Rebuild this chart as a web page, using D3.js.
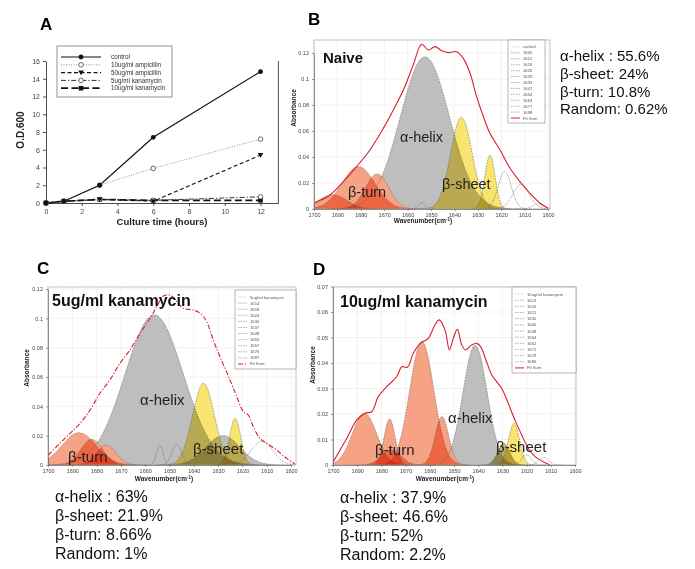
<!DOCTYPE html>
<html><head><meta charset="utf-8">
<script src="https://cdn.jsdelivr.net/npm/d3@7"></script>
<style>
body{margin:0;background:#fff}
svg{display:block}
text{font-family:"Liberation Sans",Arial,sans-serif}
</style>
</head><body>
<svg id="c" width="695" height="569"></svg>
<script>
// ---------------- Panel A data ----------------
const hours = [0, 1, 3, 6, 12];
const growthNames = ["control", "10ug/ml ampicillin", "50ug/ml ampicillin", "5ug/ml kanamycin", "10ug/ml kanamycin"];
const odControl = [0, 0.2, 2.0, 7.4, 14.8];
const odAmp10 = [0, 0.2, 2.0, 3.9, 7.2];
const odAmp50 = [0, 0.2, 0.4, 0.2, 5.4];
const odKan5 = [0, 0.2, 0.4, 0.3, 0.7];
const odKan10 = [0, 0.2, 0.4, 0.3, 0.3];
const odTicks = [0, 2, 4, 6, 8, 10, 12, 14, 16];
const hourTicks = [0, 2, 4, 6, 8, 10, 12];

// ---------------- FTIR spectra data ----------------
const wnTicks = [1700, 1690, 1680, 1670, 1660, 1650, 1640, 1630, 1620, 1610, 1600];
const absTicks12 = [0, 0.02, 0.04, 0.06, 0.08, 0.1, 0.12];
const absTicks07 = [0, 0.01, 0.02, 0.03, 0.04, 0.05, 0.06, 0.07];

// Panel B (Naive)
const compB_center = [1692, 1681, 1673, 1652.6, 1654, 1637, 1624.8, 1618.5, 1611.5, 1604];
const compB_height = [0.011, 0.0326, 0.027, 0.117, 0.005, 0.0705, 0.0415, 0.029, 0.019, 0.004];
const compB_width  = [6, 7, 5, 10.5, 1.3, 4.6, 2.2, 2.8, 3.5, 2.5];
const compB_type   = ["turn", "turn", "turn", "helix", "none", "sheet", "sheet", "none", "none", "none"];
const fitB_wn  = [1699.6,1693.2,1687.5,1681.8,1676.1,1670.4,1666.1,1661.8,1657.6,1654.0,1651.1,1648.3,1645.4,1642.6,1639.0,1636.2,1633.3,1630.5,1627.6,1624.8,1620.5,1616.2,1612.0,1607.7,1603.4,1600.0];
const fitB_abs = [0.0049,0.0108,0.021,0.0326,0.0454,0.062,0.0762,0.0915,0.1108,0.1267,0.1223,0.1249,0.1218,0.1203,0.121,0.1159,0.1044,0.0864,0.071,0.0582,0.0454,0.0313,0.021,0.012,0.0044,0.0005];
const legendB = ["control","1605","1612","1616","1625","1629","1635","1647","1654","1663","1677","1698","Fit Sum"];
const statsB = ["α-helix : 55.6%", "β-sheet: 24%", "β-turn: 10.8%", "Random: 0.62%"];

// Panel C (5ug/ml kanamycin)
const compC_center = [1687.2, 1682, 1676, 1656.3, 1654, 1647, 1636, 1623, 1628, 1612];
const compC_height = [0.022, 0.0175, 0.0135, 0.1023, 0.0136, 0.014, 0.0557, 0.0318, 0.02, 0.016];
const compC_width  = [7, 4.5, 4, 12, 1.3, 2, 4.5, 2.3, 7, 4.5];
const compC_type   = ["turn", "turn", "turn", "helix", "none", "none", "sheet", "sheet", "helix", "none"];
const fitC_wn  = [1699.9,1695.1,1690.9,1686.8,1682.7,1678.6,1674.5,1670.4,1666.3,1662.1,1658.0,1655.3,1652.5,1649.8,1647.0,1644.3,1640.2,1637.4,1634.7,1632.0,1629.2,1625.1,1622.3,1619.6,1617.6,1615.5,1612.8,1610.0,1605.9,1601.8,1598.4];
const fitC_abs = [0.0068,0.0148,0.0216,0.0284,0.0375,0.0489,0.058,0.0693,0.0784,0.0898,0.1,0.1079,0.1152,0.1159,0.1114,0.1068,0.1057,0.1034,0.0977,0.0852,0.0738,0.058,0.0466,0.0364,0.0341,0.0261,0.0182,0.0148,0.0102,0.0045,0.0007];
const legendC = ["5ug/ml kanamycin","1614","1618","1624","1630","1637","1648","1655","1657","1676","1687","Fit Sum"];
const statsC = ["α-helix : 63%", "β-sheet: 21.9%", "β-turn: 8.66%", "Random: 1%"];

// Panel D (10ug/ml kanamycin)
const compD_center = [1687, 1676.6, 1676, 1663.3, 1655, 1641.3, 1629.5, 1625.2, 1613, 1620];
const compD_height = [0.0203, 0.018, 0.006, 0.0484, 0.019, 0.047, 0.0085, 0.0163, 0.003, 0.004];
const compD_width  = [5, 2.3, 4, 5, 2.8, 5, 2.5, 2.3, 2, 2];
const compD_type   = ["turn", "turn", "turn", "turn", "turn", "helix", "olive", "sheet", "none", "none"];
const fitD_wn  = [1699.9,1694.3,1690.2,1686.8,1684.0,1681.3,1677.8,1673.7,1671.6,1669.3,1666.8,1664.0,1660.6,1657.9,1656.1,1653.7,1651.9,1650.3,1648.6,1646.8,1645.2,1642.7,1640.6,1639.0,1636.8,1634.4,1632.4,1630.3,1627.6,1624.8,1622.0,1619.3,1616.5,1613.1,1610.3];
const fitD_abs = [0.0013,0.0105,0.0176,0.0203,0.0209,0.0268,0.0307,0.0346,0.0385,0.0383,0.0438,0.0477,0.0497,0.0549,0.0569,0.0529,0.0451,0.0497,0.0532,0.0471,0.0451,0.0471,0.0477,0.0464,0.0412,0.0353,0.0327,0.0301,0.0242,0.0176,0.0118,0.0065,0.0033,0.0013,0.0];
const legendD = ["10ug/ml kanamycin","1613","1616","1621","1630","1640","1648","1654","1662","1671","1679","1696","Fit Sum"];
const statsD = ["α-helix : 37.9%", "β-sheet: 46.6%", "β-turn: 52%", "Random: 2.2%"];

// ---------------- drawing ----------------
const svg = d3.select("#c");

// ===== Panel A =====
(function () {
  const x = d3.scaleLinear().domain([0, 13]).range([46, 278.4]);
  const y = d3.scaleLinear().domain([0, 16]).range([203, 61]);
  const g = svg.append("g");
  g.append("text").attr("x", 40).attr("y", 30).attr("font-size", 17).attr("font-weight", "bold").text("A");

  const ax = g.append("g").attr("transform", "translate(0,203)")
    .call(d3.axisBottom(x).tickValues(hourTicks).tickSize(3).tickPadding(3).tickSizeOuter(0));
  const ay = g.append("g").attr("transform", "translate(46,0)")
    .call(d3.axisLeft(y).tickValues(odTicks).tickSize(3).tickPadding(3).tickSizeOuter(0));
  [ax, ay].forEach(a => {
    a.selectAll("text").attr("font-size", 7).attr("fill", "#444").attr("font-family", "Liberation Sans, Arial");
    a.selectAll("line,path").attr("stroke", "#222").attr("stroke-width", 0.8);
  });
  g.append("line").attr("x1", 278.4).attr("x2", 278.4).attr("y1", y(16)).attr("y2", y(0)).attr("stroke", "#222").attr("stroke-width", 0.8);

  g.append("text").attr("x", 162).attr("y", 225).attr("text-anchor", "middle").attr("font-size", 9.5).attr("font-weight", "bold").attr("fill", "#222").text("Culture time (hours)");
  g.append("text").attr("transform", "translate(24,130) rotate(-90)").attr("text-anchor", "middle").attr("font-size", 10).attr("font-weight", "bold").attr("fill", "#222").text("O.D.600");

  const series = [
    {vals: odControl, dash: null, w: 1.2, col: "#111", marker: "dot"},
    {vals: odAmp10, dash: "1,1.5", w: 0.9, col: "#888", marker: "ring"},
    {vals: odAmp50, dash: "4,2.5", w: 1.1, col: "#111", marker: "tri"},
    {vals: odKan5, dash: "5,2,1.2,2", w: 1.0, col: "#333", marker: "ring"},
    {vals: odKan10, dash: "7,3.5", w: 1.7, col: "#111", marker: "sq"}
  ];
  const line = d3.line().x((d, i) => x(hours[i])).y(d => y(d));
  function marker(sel, type, cx, cy) {
    if (type === "dot") sel.append("circle").attr("cx", cx).attr("cy", cy).attr("r", 2.4).attr("fill", "#111");
    else if (type === "ring") sel.append("circle").attr("cx", cx).attr("cy", cy).attr("r", 2.3).attr("fill", "#fff").attr("stroke", "#444").attr("stroke-width", 0.8);
    else if (type === "tri") sel.append("path").attr("d", `M${cx - 2.8},${cy - 2}L${cx + 2.8},${cy - 2}L${cx},${cy + 2.6}Z`).attr("fill", "#111");
    else if (type === "sq") sel.append("rect").attr("x", cx - 2.3).attr("y", cy - 2.3).attr("width", 4.6).attr("height", 4.6).attr("fill", "#111");
  }
  series.slice().reverse().forEach(s => {
    g.append("path").attr("d", line(s.vals)).attr("fill", "none").attr("stroke", s.col)
      .attr("stroke-width", s.w).attr("stroke-dasharray", s.dash);
  });
  series.slice().reverse().forEach(s => {
    s.vals.forEach((v, i) => marker(g, s.marker, x(hours[i]), y(v)));
  });

  // legend
  const lg = g.append("g");
  lg.append("rect").attr("x", 57).attr("y", 46).attr("width", 115).attr("height", 51).attr("fill", "#fff").attr("stroke", "#666").attr("stroke-width", 0.7);
  series.forEach((s, i) => {
    const yy = 57 + i * 7.8;
    lg.append("line").attr("x1", 61).attr("x2", 101).attr("y1", yy).attr("y2", yy).attr("stroke", s.col).attr("stroke-width", s.w).attr("stroke-dasharray", s.dash);
    marker(lg, s.marker, 81, yy);
    lg.append("text").attr("x", 111).attr("y", yy + 2.2).attr("font-size", 6.3).attr("fill", "#333").text(growthNames[i]);
  });
})();

// ===== FTIR panels =====
const typeFill = {turn: "#F6A284", helix: "#BEBEBE", sheet: "#F8E46E", olive: "#BCAE6A"};

function spectrum(id, L, comps, fitWn, fitAbs, yTicks, legendNames, stats) {
  const g = svg.append("g");
  const x = d3.scaleLinear().domain([1700, 1600]).range(L.xr);
  const y = d3.scaleLinear().domain([0, L.yMax]).range(L.yr);
  const fl = L.xr[0], fr = L.fr, ft = L.ft, fb = L.yr[0];

  g.append("text").attr("x", L.lab[0]).attr("y", L.lab[1]).attr("font-size", 17).attr("font-weight", "bold").text(id);

  // grid
  const grid = g.append("g").attr("stroke", "#e4e4e4").attr("stroke-width", 0.5);
  wnTicks.forEach(t => grid.append("line").attr("x1", x(t)).attr("x2", x(t)).attr("y1", ft).attr("y2", fb));
  yTicks.forEach(t => grid.append("line").attr("x1", fl).attr("x2", fr).attr("y1", y(t)).attr("y2", y(t)));

  const clipId = "clip" + id;
  g.append("clipPath").attr("id", clipId).append("rect").attr("x", fl).attr("y", ft).attr("width", fr - fl).attr("height", fb - ft);
  const plot = g.append("g").attr("clip-path", `url(#${clipId})`);

  const area = d3.area().x(d => x(d[0])).y0(fb).y1(d => y(d[1]));
  const lineP = d3.line().x(d => x(d[0])).y(d => y(d[1]));
  function pts(c) {
    const out = [];
    for (let w = c.c - 4 * c.s; w <= c.c + 4 * c.s; w += 0.2) out.push([w, c.h * Math.exp(-0.5 * ((w - c.c) / c.s) ** 2)]);
    return out;
  }
  const g1 = plot.append("g").style("isolation", "isolate");
  const g2 = plot.append("g").style("isolation", "isolate");
  comps.forEach(c => {
    if (c.t === "none") return;
    const tgt = c.t === "turn" ? g2 : g1;
    tgt.append("path").attr("d", area(pts(c))).attr("fill", typeFill[c.t]).style("mix-blend-mode", "multiply");
  });
  const outl = plot.append("g");
  comps.forEach(c => {
    outl.append("path").attr("d", lineP(pts(c))).attr("fill", "none")
      .attr("stroke", c.t === "none" ? "#556" : "#555").attr("stroke-width", 0.5).attr("stroke-dasharray", "1.8,1");
  });
  const fitPts = fitWn.map((w, i) => [w, fitAbs[i]]);
  plot.append("path").attr("d", d3.line().x(d => x(d[0])).y(d => y(d[1])).curve(d3.curveCatmullRom)(fitPts))
    .attr("fill", "none").attr("stroke", "#D8202C").attr("stroke-width", 1.1).attr("stroke-dasharray", L.fitDash);

  // frame & axes
  g.append("rect").attr("x", fl).attr("y", ft).attr("width", fr - fl).attr("height", fb - ft).attr("fill", "none").attr("stroke", "#999").attr("stroke-width", 0.6);
  const ax = g.append("g").attr("transform", `translate(0,${fb})`)
    .call(d3.axisBottom(x).tickValues(wnTicks).tickFormat(d3.format("d")).tickSize(2).tickPadding(2).tickSizeOuter(0));
  const ay = g.append("g").attr("transform", `translate(${fl},0)`)
    .call(d3.axisLeft(y).tickValues(yTicks).tickFormat(d => d === 0 ? "0" : String(+d.toFixed(2))).tickSize(2).tickPadding(3).tickSizeOuter(0));
  [ax, ay].forEach(a => {
    a.selectAll("text").attr("font-size", 5.5).attr("fill", "#444").attr("font-family", "Liberation Serif, serif");
    a.selectAll("line,path").attr("stroke", "#555").attr("stroke-width", 0.6);
  });
  g.append("text").attr("x", L.xt[0]).attr("y", L.xt[1]).attr("text-anchor", "middle").attr("font-size", 6.5).attr("font-weight", "bold").attr("fill", "#222")
    .html("Wavenumber(cm<tspan dy='-2' font-size='4.5'>-1</tspan><tspan dy='2'>)</tspan>");
  g.append("text").attr("transform", `translate(${L.yt[0]},${L.yt[1]}) rotate(-90)`).attr("text-anchor", "middle").attr("font-size", 6.5).attr("font-weight", "bold").attr("fill", "#222").text("Absorbance");

  // legend
  const lg = g.append("g");
  const LG = L.leg;
  lg.append("rect").attr("x", LG[0]).attr("y", LG[1]).attr("width", LG[2]).attr("height", LG[3]).attr("fill", "#fff").attr("stroke", "#888").attr("stroke-width", 0.6);
  const step = (LG[3] - 6) / legendNames.length;
  legendNames.forEach((n, i) => {
    const yy = LG[1] + 4 + step * (i + 0.5);
    const last = i === legendNames.length - 1;
    lg.append("line").attr("x1", LG[0] + 3).attr("x2", LG[0] + 12).attr("y1", yy).attr("y2", yy)
      .attr("stroke", last ? "#D8202C" : (i === 0 ? "#ccc" : "#666")).attr("stroke-width", last ? 1 : 0.5)
      .attr("stroke-dasharray", last ? L.fitDash : (i === 0 ? null : "1.5,1"));
    lg.append("text").attr("x", LG[0] + 15).attr("y", yy + 1.5).attr("font-size", 4.2).attr("fill", "#555").text(n);
  });

  // title inside plot
  g.append("text").attr("x", L.title[0]).attr("y", L.title[1]).attr("font-size", L.title[3]).attr("font-weight", "bold").attr("fill", "#111").text(L.title[2]);

  // labels on regions
  L.regionLabels.forEach(r => g.append("text").attr("x", r[0]).attr("y", r[1]).attr("font-size", L.regionSize).attr("fill", "#222").text(r[2]));

  // stats
  stats.forEach((s, i) => g.append("text").attr("x", L.stats[0]).attr("y", L.stats[1] + i * L.stats[2]).attr("font-size", L.stats[3]).attr("fill", "#111").text(s));
}

function zipComps(c, h, w, t) { return c.map((v, i) => ({c: v, h: h[i], s: w[i], t: t[i]})); }

spectrum("B", {
  xr: [314, 548], fr: 550, ft: 40, yr: [209, 53], yMax: 0.12, lab: [308, 25],
  xt: [423, 223], yt: [296, 108], leg: [508, 40, 37, 83], fitDash: null,
  title: [323, 63, "Naive", 15],
  regionLabels: [[400, 142, "α-helix"], [348, 197, "β-turn"], [442, 189, "β-sheet"]], regionSize: 14.5,
  stats: [560, 61, 17.8, 15]
}, zipComps(compB_center, compB_height, compB_width, compB_type), fitB_wn, fitB_abs, absTicks12, legendB, statsB);

spectrum("C", {
  xr: [48, 291], fr: 296, ft: 287, yr: [465, 289], yMax: 0.12, lab: [37, 274],
  xt: [164, 481], yt: [29, 368], leg: [235, 290, 61, 79], fitDash: "5,1.8,1.2,1.8",
  title: [52, 306, "5ug/ml kanamycin", 16],
  regionLabels: [[140, 405, "α-helix"], [68, 462, "β-turn"], [193, 454, "β-sheet"]], regionSize: 15,
  stats: [55, 502, 19, 16]
}, zipComps(compC_center, compC_height, compC_width, compC_type), fitC_wn, fitC_abs, absTicks12, legendC, statsC);

spectrum("D", {
  xr: [333, 575], fr: 576, ft: 287, yr: [465, 286.5], yMax: 0.07, lab: [313, 275],
  xt: [445, 481], yt: [315, 365], leg: [512, 287, 64, 86], fitDash: null,
  title: [340, 307, "10ug/ml kanamycin", 16],
  regionLabels: [[448, 423, "α-helix"], [375, 455, "β-turn"], [496, 452, "β-sheet"]], regionSize: 15,
  stats: [340, 503, 19, 16]
}, zipComps(compD_center, compD_height, compD_width, compD_type), fitD_wn, fitD_abs, absTicks07, legendD, statsD);
</script>
</body></html>
